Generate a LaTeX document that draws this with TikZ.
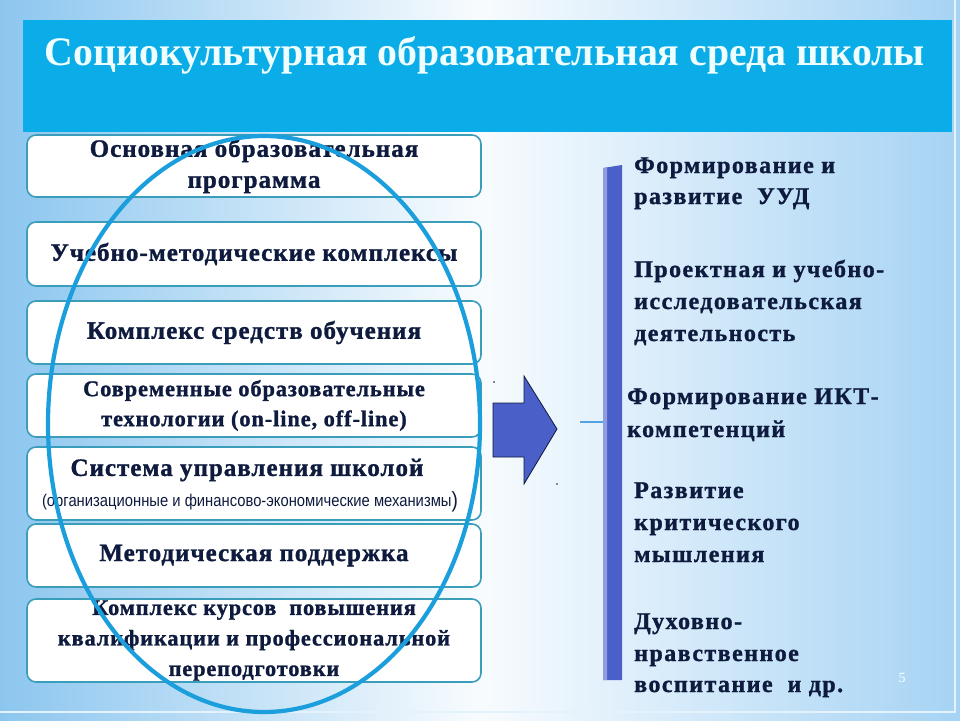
\documentclass[tikz,border=0pt]{standalone}
\usepackage{fontspec}
\setmainfont{Liberation Serif}
\newfontfamily\boxfont[LetterSpace=4,BoldFeatures={FakeBold=1.2}]{Liberation Serif}
\newfontfamily\rfont[LetterSpace=6,BoldFeatures={FakeBold=1.2}]{Liberation Serif}
\newfontfamily\narrowfont{Liberation Sans}
\definecolor{bgL}{HTML}{8CC6EF}
\definecolor{bgR}{HTML}{A6D3F4}
\definecolor{banner}{HTML}{0BADE8}
\definecolor{navy}{HTML}{0E1B3E}
\definecolor{boxline}{HTML}{3A9DBA}
\definecolor{ell}{HTML}{1A9EDC}
\definecolor{royal}{HTML}{4A5FC8}
\definecolor{titlec}{HTML}{EFFFFF}
\tikzset{
  x=1pt,y=-1pt,
  itembox/.style={draw=boxline,line width=1.6pt,fill=white,rounded corners=9pt,minimum width=454pt},
  itemtext/.style={font=\boxfont\bfseries\fontsize{25}{31}\selectfont,text=navy,align=center},
  rline/.style={font=\rfont\bfseries\fontsize{24}{32}\selectfont,text=navy,anchor=base west,inner sep=0pt},
}
\begin{document}
\begin{tikzpicture}
\useasboundingbox (0,0) rectangle (960,720);
% background
\fill[left color=bgL,right color=white!94!bgL] (0,0) rectangle (480,720);
\fill[left color=white!94!bgL,right color=bgR] (480,0) rectangle (960,720);
\draw[white!70!bgR,line width=1.5pt] (955,0) -- (955,712) -- (0,712);
% banner
\fill[banner] (23,20) rectangle (952,132);
\node[inner sep=0pt,text=titlec,anchor=base] (title) at (485,65)
  {\resizebox{880pt}{29pt}{\fontsize{40}{44}\selectfont\bfseries Социокультурная образовательная среда школы}};
% left boxes
\node[itembox,minimum height=62pt] (b1) at (254,166) {};
\node[itemtext] at (b1) {Основная образовательная\\программа};
\node[itembox,minimum height=64pt] (b2) at (254,254) {};
\node[itemtext] at (b2) {Учебно-методические комплексы};
\node[itembox,minimum height=63pt] (b3) at (254,332.5) {};
\node[itemtext] at (b3) {Комплекс средств обучения};
\node[itembox,minimum height=63pt] (b4) at (254,405.5) {};
\node[itemtext,font=\boxfont\bfseries\fontsize{22.4}{30}\selectfont] at (b4) {Современные образовательные\\технологии (on-line, off-line)};
\node[itembox,minimum height=73pt] (b5) at (254,483.5) {};
\node[itemtext] (b5t) at (247,470) {Система управления школой};
\node[text=navy,inner sep=0pt] (b5s) at (250,502) {\scalebox{0.87}[1]{\narrowfont\fontsize{17}{18}\selectfont(организационные и финансово-экономические механизмы\raisebox{-1pt}{\fontsize{22}{22}\selectfont)}}};
\node[itembox,minimum height=63pt] (b6) at (254,555.5) {};
\node[itemtext] at (b6) {Методическая поддержка};
\node[itembox,minimum height=83pt] (b7) at (254,640.5) {};
\node[itemtext,font=\boxfont\bfseries\fontsize{22.3}{30.5}\selectfont] at (b7) {Комплекс курсов~ повышения\\квалификации и профессиональной\\переподготовки};
% ellipse
\draw[ell,line width=4.2pt] (264,424) ellipse [x radius=216,y radius=288];
% arrow
\filldraw[fill=royal,draw=navy,line width=0.8pt] (493,403) -- (524,403) -- (524,376) -- (557,429) -- (524,484) -- (524,457) -- (493,457) -- cycle;
\fill[navy] (494,382) circle (0.9);
\fill[navy] (557,484) circle (0.9);
% bar
\fill[royal] (603,168) -- (622,165) -- (622,680) -- (603,680) -- cycle;
\fill[royal!45!white,opacity=0.7] (603,168) -- (607,167.5) -- (607,680) -- (603,680) -- cycle;
\coordinate (tk) at (580,422);
\draw[cyan!70!blue!70,line width=1.6pt] (tk) -- (603,422);
% right texts
\node[rline] (r1a) at (634,173) {Формирование и};
\node[rline] (r1b) at (634,204) {развитие~ УУД};
\node[rline] (r2a) at (634,277) {Проектная и учебно-};
\node[rline] (r2b) at (634,309) {исследовательская};
\node[rline] (r2c) at (634,341) {деятельность};
\node[rline] (r3a) at (627,404) {Формирование ИКТ-};
\node[rline] (r3b) at (627,437) {компетенций};
\node[rline] (r4a) at (634,498) {Развитие};
\node[rline] (r4b) at (634,530) {критического};
\node[rline] (r4c) at (634,562) {мышления};
\node[rline] (r5a) at (634,629) {Духовно-};
\node[rline] (r5b) at (634,661) {нравственное};
\node[rline] (r5c) at (634,692) {воспитание~ и др.};
\node[text=white,font=\fontsize{14}{14}\selectfont] (pg) at (902,678) {5};
\end{tikzpicture}
\end{document}
